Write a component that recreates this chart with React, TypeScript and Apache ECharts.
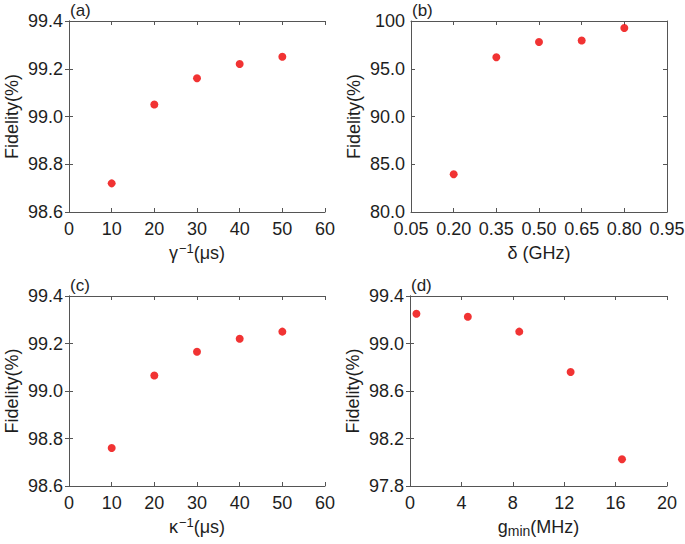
import React, { useEffect, useRef } from "react";
import * as echarts from "echarts";

// ---- data ----
const aX = [10, 20, 30, 40, 50];
const aY = [98.72, 99.05, 99.16, 99.22, 99.25];
const bX = [0.2, 0.35, 0.5, 0.65, 0.8];
const bY = [83.95, 96.2, 97.8, 97.95, 99.27];
const cX = [10, 20, 30, 40, 50];
const cY = [98.76, 99.065, 99.165, 99.22, 99.25];
const dX = [0.5, 4.5, 8.5, 12.5, 16.5];
const dY = [99.25, 99.225, 99.1, 98.76, 98.025];

const aXTicks = [0, 10, 20, 30, 40, 50, 60];
const aYTicks = [98.6, 98.8, 99.0, 99.2, 99.4];
const bXTicks = [0.05, 0.2, 0.35, 0.5, 0.65, 0.8, 0.95];
const bYTicks = [80, 85, 90, 95, 100];
const cXTicks = [0, 10, 20, 30, 40, 50, 60];
const cYTicks = [98.6, 98.8, 99.0, 99.2, 99.4];
const dXTicks = [0, 4, 8, 12, 16, 20];
const dYTicks = [97.8, 98.2, 98.6, 99.0, 99.4];

const panelLabels = ["(a)", "(b)", "(c)", "(d)"];

const FONT = "'Liberation Sans', Arial, Helvetica, sans-serif";
const TEXT = "#1e1e1e";
const LINE = "#555";
const RED = "#ee0000";

export default function App() {
  const ref = useRef<HTMLDivElement>(null);
  useEffect(() => {
    if (!ref.current) return;
    const chart = echarts.init(ref.current, null, { renderer: "svg" });

    const grids = [
      { left: 69, top: 21, width: 256, height: 191 },
      { left: 411, top: 21, width: 256, height: 191 },
      { left: 69, top: 296, width: 256, height: 190 },
      { left: 410, top: 296, width: 257, height: 190 },
    ];

    const rich = {
      n: { fontSize: 18, fontFamily: FONT, color: TEXT, lineHeight: 22 },
      sup: { fontSize: 13, fontFamily: FONT, color: TEXT, verticalAlign: "top", lineHeight: 13, padding: [0, 0, 0, 1] },
      sub: { fontSize: 14, fontFamily: FONT, color: TEXT, verticalAlign: "bottom", lineHeight: 14, padding: [10, 0, 0, 0] },
    };

    const panels = [
      { xs: aX, ys: aY, xt: aXTicks, yt: aYTicks, xf: (v: number) => String(Math.round(v)), yf: (v: number) => v.toFixed(1), xname: "{n|γ}{sup|−1}{n|(μs)}" },
      { xs: bX, ys: bY, xt: bXTicks, yt: bYTicks, xf: (v: number) => v.toFixed(2), yf: (v: number) => (v >= 100 ? "100" : v.toFixed(1)), xname: "{n|δ (GHz)}" },
      { xs: cX, ys: cY, xt: cXTicks, yt: cYTicks, xf: (v: number) => String(Math.round(v)), yf: (v: number) => v.toFixed(1), xname: "{n|κ}{sup|−1}{n|(μs)}" },
      { xs: dX, ys: dY, xt: dXTicks, yt: dYTicks, xf: (v: number) => String(Math.round(v)), yf: (v: number) => v.toFixed(1), xname: "{n|g}{sub|min}{n|(MHz)}" },
    ];

    const xAxis: any[] = [];
    const yAxis: any[] = [];
    const series: any[] = [];
    const graphic: any[] = [];

    panels.forEach((p, i) => {
      const xmin = p.xt[0], xmax = p.xt[p.xt.length - 1];
      const ymin = p.yt[0], ymax = p.yt[p.yt.length - 1];
      const base = {
        type: "value",
        gridIndex: i,
        axisLine: { show: true, lineStyle: { color: LINE, width: 1 } },
        splitLine: { show: false },
      };
      xAxis.push({
        ...base,
        position: "bottom",
        min: xmin,
        max: xmax,
        name: p.xname,
        nameLocation: "middle",
        nameGap: 30,
        nameTextStyle: { rich },
        axisTick: { show: true, inside: true, length: 4, lineStyle: { color: LINE }, customValues: p.xt },
        axisLabel: { show: true, margin: 8, fontSize: 18, fontFamily: FONT, color: TEXT, customValues: p.xt, formatter: p.xf, showMinLabel: true, showMaxLabel: true, hideOverlap: false },
      });
      xAxis.push({
        ...base,
        position: "top",
        min: xmin,
        max: xmax,
        axisTick: { show: true, inside: true, length: 4, lineStyle: { color: LINE }, customValues: p.xt },
        axisLabel: { show: false, customValues: p.xt },
      });
      yAxis.push({
        ...base,
        position: "left",
        min: ymin,
        max: ymax,
        name: "Fidelity(%)",
        nameLocation: "middle",
        nameGap: 48,
        nameTextStyle: { fontSize: 18, fontFamily: FONT, color: TEXT },
        axisTick: { show: true, inside: true, length: 4, lineStyle: { color: LINE }, customValues: p.yt },
        axisLabel: { show: true, margin: 6, fontSize: 18, fontFamily: FONT, color: TEXT, customValues: p.yt, formatter: p.yf, showMinLabel: true, showMaxLabel: true, hideOverlap: false },
      });
      yAxis.push({
        ...base,
        position: "right",
        min: ymin,
        max: ymax,
        axisTick: { show: true, inside: true, length: 4, lineStyle: { color: LINE }, customValues: p.yt },
        axisLabel: { show: false, customValues: p.yt },
      });
      series.push({
        type: "scatter",
        xAxisIndex: i * 2,
        yAxisIndex: i * 2,
        symbol: "circle",
        symbolSize: 8,
        itemStyle: { color: RED },
        data: p.xs.map((x, k) => [x, p.ys[k]]),
      });
      graphic.push({
        type: "text",
        left: grids[i].left + 1,
        top: grids[i].top - 19,
        style: { text: panelLabels[i], fontSize: 17, fontFamily: FONT, fill: TEXT },
      });
    });

    chart.setOption({
      animation: false,
      backgroundColor: "#ffffff",
      grid: grids.map((g) => ({ ...g, containLabel: false, outerBoundsMode: "none" })),
      xAxis,
      yAxis,
      series,
      graphic,
    });
    return () => chart.dispose();
  }, []);
  return (
    <div
      ref={ref}
      style={{ position: "fixed", left: 0, top: 0, width: 685, height: 544, background: "#fff" }}
    />
  );
}
